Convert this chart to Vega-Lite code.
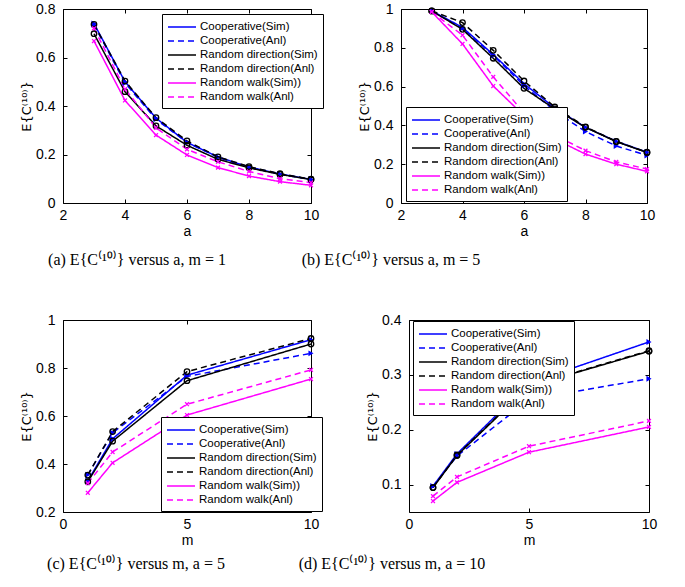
{
"$schema":"https://vega.github.io/schema/vega-lite/v6.json",
"padding":{"left":20,"top":1,"right":4,"bottom":4},
"background":"white",
"datasets":{"d":[
{"p":"a","s":"Cooperative(Sim)","x":3,"y":0.74},{"p":"a","s":"Cooperative(Sim)","x":4,"y":0.5},{"p":"a","s":"Cooperative(Sim)","x":5,"y":0.35},{"p":"a","s":"Cooperative(Sim)","x":6,"y":0.25},{"p":"a","s":"Cooperative(Sim)","x":7,"y":0.19},{"p":"a","s":"Cooperative(Sim)","x":8,"y":0.148},{"p":"a","s":"Cooperative(Sim)","x":9,"y":0.12},{"p":"a","s":"Cooperative(Sim)","x":10,"y":0.097},
{"p":"a","s":"Cooperative(Anl)","x":3,"y":0.735},{"p":"a","s":"Cooperative(Anl)","x":4,"y":0.495},{"p":"a","s":"Cooperative(Anl)","x":5,"y":0.345},{"p":"a","s":"Cooperative(Anl)","x":6,"y":0.25},{"p":"a","s":"Cooperative(Anl)","x":7,"y":0.188},{"p":"a","s":"Cooperative(Anl)","x":8,"y":0.147},{"p":"a","s":"Cooperative(Anl)","x":9,"y":0.119},{"p":"a","s":"Cooperative(Anl)","x":10,"y":0.097},
{"p":"a","s":"Random direction(Sim)","x":3,"y":0.698},{"p":"a","s":"Random direction(Sim)","x":4,"y":0.459},{"p":"a","s":"Random direction(Sim)","x":5,"y":0.318},{"p":"a","s":"Random direction(Sim)","x":6,"y":0.238},{"p":"a","s":"Random direction(Sim)","x":7,"y":0.18},{"p":"a","s":"Random direction(Sim)","x":8,"y":0.145},{"p":"a","s":"Random direction(Sim)","x":9,"y":0.118},{"p":"a","s":"Random direction(Sim)","x":10,"y":0.097},
{"p":"a","s":"Random direction(Anl)","x":3,"y":0.737},{"p":"a","s":"Random direction(Anl)","x":4,"y":0.503},{"p":"a","s":"Random direction(Anl)","x":5,"y":0.352},{"p":"a","s":"Random direction(Anl)","x":6,"y":0.256},{"p":"a","s":"Random direction(Anl)","x":7,"y":0.19},{"p":"a","s":"Random direction(Anl)","x":8,"y":0.15},{"p":"a","s":"Random direction(Anl)","x":9,"y":0.121},{"p":"a","s":"Random direction(Anl)","x":10,"y":0.098},
{"p":"a","s":"Random walk(Sim))","x":3,"y":0.668},{"p":"a","s":"Random walk(Sim))","x":4,"y":0.423},{"p":"a","s":"Random walk(Sim))","x":5,"y":0.28},{"p":"a","s":"Random walk(Sim))","x":6,"y":0.198},{"p":"a","s":"Random walk(Sim))","x":7,"y":0.146},{"p":"a","s":"Random walk(Sim))","x":8,"y":0.111},{"p":"a","s":"Random walk(Sim))","x":9,"y":0.088},{"p":"a","s":"Random walk(Sim))","x":10,"y":0.073},
{"p":"a","s":"Random walk(Anl)","x":3,"y":0.72},{"p":"a","s":"Random walk(Anl)","x":4,"y":0.47},{"p":"a","s":"Random walk(Anl)","x":5,"y":0.31},{"p":"a","s":"Random walk(Anl)","x":6,"y":0.221},{"p":"a","s":"Random walk(Anl)","x":7,"y":0.17},{"p":"a","s":"Random walk(Anl)","x":8,"y":0.13},{"p":"a","s":"Random walk(Anl)","x":9,"y":0.1},{"p":"a","s":"Random walk(Anl)","x":10,"y":0.084},
{"p":"b","s":"Cooperative(Sim)","x":3,"y":0.99},{"p":"b","s":"Cooperative(Sim)","x":4,"y":0.905},{"p":"b","s":"Cooperative(Sim)","x":5,"y":0.765},{"p":"b","s":"Cooperative(Sim)","x":6,"y":0.615},{"p":"b","s":"Cooperative(Sim)","x":7,"y":0.49},{"p":"b","s":"Cooperative(Sim)","x":8,"y":0.39},{"p":"b","s":"Cooperative(Sim)","x":9,"y":0.318},{"p":"b","s":"Cooperative(Sim)","x":10,"y":0.262},
{"p":"b","s":"Cooperative(Anl)","x":3,"y":0.99},{"p":"b","s":"Cooperative(Anl)","x":4,"y":0.9},{"p":"b","s":"Cooperative(Anl)","x":5,"y":0.76},{"p":"b","s":"Cooperative(Anl)","x":6,"y":0.605},{"p":"b","s":"Cooperative(Anl)","x":7,"y":0.475},{"p":"b","s":"Cooperative(Anl)","x":8,"y":0.368},{"p":"b","s":"Cooperative(Anl)","x":9,"y":0.294},{"p":"b","s":"Cooperative(Anl)","x":10,"y":0.245},
{"p":"b","s":"Random direction(Sim)","x":3,"y":0.99},{"p":"b","s":"Random direction(Sim)","x":4,"y":0.895},{"p":"b","s":"Random direction(Sim)","x":5,"y":0.746},{"p":"b","s":"Random direction(Sim)","x":6,"y":0.591},{"p":"b","s":"Random direction(Sim)","x":7,"y":0.485},{"p":"b","s":"Random direction(Sim)","x":8,"y":0.39},{"p":"b","s":"Random direction(Sim)","x":9,"y":0.316},{"p":"b","s":"Random direction(Sim)","x":10,"y":0.26},
{"p":"b","s":"Random direction(Anl)","x":3,"y":0.99},{"p":"b","s":"Random direction(Anl)","x":4,"y":0.93},{"p":"b","s":"Random direction(Anl)","x":5,"y":0.787},{"p":"b","s":"Random direction(Anl)","x":6,"y":0.629},{"p":"b","s":"Random direction(Anl)","x":7,"y":0.495},{"p":"b","s":"Random direction(Anl)","x":8,"y":0.392},{"p":"b","s":"Random direction(Anl)","x":9,"y":0.318},{"p":"b","s":"Random direction(Anl)","x":10,"y":0.262},
{"p":"b","s":"Random walk(Sim))","x":3,"y":0.985},{"p":"b","s":"Random walk(Sim))","x":4,"y":0.82},{"p":"b","s":"Random walk(Sim))","x":5,"y":0.603},{"p":"b","s":"Random walk(Sim))","x":6,"y":0.45},{"p":"b","s":"Random walk(Sim))","x":7,"y":0.33},{"p":"b","s":"Random walk(Sim))","x":8,"y":0.252},{"p":"b","s":"Random walk(Sim))","x":9,"y":0.2},{"p":"b","s":"Random walk(Sim))","x":10,"y":0.163},
{"p":"b","s":"Random walk(Anl)","x":3,"y":0.985},{"p":"b","s":"Random walk(Anl)","x":4,"y":0.865},{"p":"b","s":"Random walk(Anl)","x":5,"y":0.65},{"p":"b","s":"Random walk(Anl)","x":6,"y":0.465},{"p":"b","s":"Random walk(Anl)","x":7,"y":0.35},{"p":"b","s":"Random walk(Anl)","x":8,"y":0.27},{"p":"b","s":"Random walk(Anl)","x":9,"y":0.212},{"p":"b","s":"Random walk(Anl)","x":10,"y":0.175},
{"p":"c","s":"Cooperative(Sim)","x":1,"y":0.33},{"p":"c","s":"Cooperative(Sim)","x":2,"y":0.505},{"p":"c","s":"Cooperative(Sim)","x":5,"y":0.77},{"p":"c","s":"Cooperative(Sim)","x":10,"y":0.918},
{"p":"c","s":"Cooperative(Anl)","x":1,"y":0.355},{"p":"c","s":"Cooperative(Anl)","x":2,"y":0.53},{"p":"c","s":"Cooperative(Anl)","x":5,"y":0.765},{"p":"c","s":"Cooperative(Anl)","x":10,"y":0.861},
{"p":"c","s":"Random direction(Sim)","x":1,"y":0.326},{"p":"c","s":"Random direction(Sim)","x":2,"y":0.495},{"p":"c","s":"Random direction(Sim)","x":5,"y":0.747},{"p":"c","s":"Random direction(Sim)","x":10,"y":0.9},
{"p":"c","s":"Random direction(Anl)","x":1,"y":0.354},{"p":"c","s":"Random direction(Anl)","x":2,"y":0.535},{"p":"c","s":"Random direction(Anl)","x":5,"y":0.785},{"p":"c","s":"Random direction(Anl)","x":10,"y":0.923},
{"p":"c","s":"Random walk(Sim))","x":1,"y":0.28},{"p":"c","s":"Random walk(Sim))","x":2,"y":0.405},{"p":"c","s":"Random walk(Sim))","x":5,"y":0.604},{"p":"c","s":"Random walk(Sim))","x":10,"y":0.754},
{"p":"c","s":"Random walk(Anl)","x":1,"y":0.32},{"p":"c","s":"Random walk(Anl)","x":2,"y":0.45},{"p":"c","s":"Random walk(Anl)","x":5,"y":0.649},{"p":"c","s":"Random walk(Anl)","x":10,"y":0.792},
{"p":"d","s":"Cooperative(Sim)","x":1,"y":0.097},{"p":"d","s":"Cooperative(Sim)","x":2,"y":0.156},{"p":"d","s":"Cooperative(Sim)","x":5,"y":0.285},{"p":"d","s":"Cooperative(Sim)","x":10,"y":0.36},
{"p":"d","s":"Cooperative(Anl)","x":1,"y":0.097},{"p":"d","s":"Cooperative(Anl)","x":2,"y":0.152},{"p":"d","s":"Cooperative(Anl)","x":5,"y":0.255},{"p":"d","s":"Cooperative(Anl)","x":10,"y":0.293},
{"p":"d","s":"Random direction(Sim)","x":1,"y":0.0945},{"p":"d","s":"Random direction(Sim)","x":2,"y":0.153},{"p":"d","s":"Random direction(Sim)","x":5,"y":0.279},{"p":"d","s":"Random direction(Sim)","x":10,"y":0.343},
{"p":"d","s":"Random direction(Anl)","x":1,"y":0.0945},{"p":"d","s":"Random direction(Anl)","x":2,"y":0.154},{"p":"d","s":"Random direction(Anl)","x":5,"y":0.28},{"p":"d","s":"Random direction(Anl)","x":10,"y":0.344},
{"p":"d","s":"Random walk(Sim))","x":1,"y":0.07},{"p":"d","s":"Random walk(Sim))","x":2,"y":0.104},{"p":"d","s":"Random walk(Sim))","x":5,"y":0.159},{"p":"d","s":"Random walk(Sim))","x":10,"y":0.205},
{"p":"d","s":"Random walk(Anl)","x":1,"y":0.079},{"p":"d","s":"Random walk(Anl)","x":2,"y":0.114},{"p":"d","s":"Random walk(Anl)","x":5,"y":0.17},{"p":"d","s":"Random walk(Anl)","x":10,"y":0.216}
]},
"data":{"name":"d"},
"resolve":{"scale":{"color":"independent","strokeDash":"independent","shape":"independent"},"legend":{"color":"independent","strokeDash":"independent","shape":"independent"}},
"spacing":43,
"vconcat":[
{"hconcat":[
{"width":248,"height":194,
"title":{"text":"(a) E{C⁽¹⁰⁾} versus a, m = 1","dx":-50,"offset":14},
"transform":[{"filter":"datum.p=='a'"}],
"encoding":{"x":{"field":"x","type":"quantitative","scale":{"domain":[2,10]},"axis":{"values":[2,4,6,8,10],"title":"a"}},
"y":{"field":"y","type":"quantitative","scale":{"domain":[0,0.8]},"axis":{"values":[0,0.2,0.4,0.6,0.8],"title":"E{C⁽¹⁰⁾}"}}},
"resolve":{"axis":{"x":"independent","y":"independent"}},
"layer":[
{"layer":[
{"mark":{"type":"line","strokeWidth":1.5},"encoding":{"color":{"field":"s","type":"nominal","scale":{"domain":["Cooperative(Sim)","Cooperative(Anl)","Random direction(Sim)","Random direction(Anl)","Random walk(Sim))","Random walk(Anl)"],"range":["#0000ff","#0000ff","#000000","#000000","#ff00ff","#ff00ff"]},"legend":{"title":null,"orient":"none","legendX":99,"legendY":5}},"strokeDash":{"field":"s","type":"nominal","scale":{"domain":["Cooperative(Sim)","Cooperative(Anl)","Random direction(Sim)","Random direction(Anl)","Random walk(Sim))","Random walk(Anl)"],"range":[[1,0],[6,4],[1,0],[6,4],[1,0],[6,4]]},"legend":{"title":null,"orient":"none","legendX":99,"legendY":5}}}},
{"transform":[{"filter":"indexof(datum.s,'Cooperative')==0"}],"mark":{"type":"point","filled":true,"shape":"triangle-right","size":35,"opacity":1},"encoding":{"color":{"field":"s","type":"nominal","scale":{"domain":["Cooperative(Sim)","Cooperative(Anl)","Random direction(Sim)","Random direction(Anl)","Random walk(Sim))","Random walk(Anl)"],"range":["#0000ff","#0000ff","#000000","#000000","#ff00ff","#ff00ff"]}}}},
{"transform":[{"filter":"indexof(datum.s,'Cooperative')<0"}],"mark":{"type":"point","filled":false,"size":30,"strokeWidth":1.3,"opacity":1},"encoding":{"color":{"field":"s","type":"nominal","scale":{"domain":["Cooperative(Sim)","Cooperative(Anl)","Random direction(Sim)","Random direction(Anl)","Random walk(Sim))","Random walk(Anl)"],"range":["#0000ff","#0000ff","#000000","#000000","#ff00ff","#ff00ff"]}},"shape":{"field":"s","type":"nominal","scale":{"domain":["Random direction(Sim)","Random direction(Anl)","Random walk(Sim))","Random walk(Anl)"],"range":["circle","circle","M-0.7,-0.7L0.7,0.7M-0.7,0.7L0.7,-0.7","M-0.7,-0.7L0.7,0.7M-0.7,0.7L0.7,-0.7"]},"legend":null}}}
]},
{"mark":{"type":"point","opacity":0},"encoding":{"x":{"field":"x","type":"quantitative","axis":{"orient":"top","labels":false,"title":null,"values":[2,4,6,8,10]}},"y":{"field":"y","type":"quantitative","axis":{"orient":"right","labels":false,"title":null,"values":[0,0.2,0.4,0.6,0.8]}}}}
]},
{"width":246,"height":194,
"title":{"text":"(b) E{C⁽¹⁰⁾} versus a, m = 5","dx":-133,"offset":14},
"transform":[{"filter":"datum.p=='b'"}],
"encoding":{"x":{"field":"x","type":"quantitative","scale":{"domain":[2,10]},"axis":{"values":[2,4,6,8,10],"title":"a"}},
"y":{"field":"y","type":"quantitative","scale":{"domain":[0,1]},"axis":{"values":[0,0.2,0.4,0.6,0.8,1],"title":"E{C⁽¹⁰⁾}"}}},
"resolve":{"axis":{"x":"independent","y":"independent"}},
"layer":[
{"layer":[
{"mark":{"type":"line","strokeWidth":1.5},"encoding":{"color":{"field":"s","type":"nominal","scale":{"domain":["Cooperative(Sim)","Cooperative(Anl)","Random direction(Sim)","Random direction(Anl)","Random walk(Sim))","Random walk(Anl)"],"range":["#0000ff","#0000ff","#000000","#000000","#ff00ff","#ff00ff"]},"legend":{"title":null,"orient":"none","legendX":5,"legendY":98}},"strokeDash":{"field":"s","type":"nominal","scale":{"domain":["Cooperative(Sim)","Cooperative(Anl)","Random direction(Sim)","Random direction(Anl)","Random walk(Sim))","Random walk(Anl)"],"range":[[1,0],[6,4],[1,0],[6,4],[1,0],[6,4]]},"legend":{"title":null,"orient":"none","legendX":5,"legendY":98}}}},
{"transform":[{"filter":"indexof(datum.s,'Cooperative')==0"}],"mark":{"type":"point","filled":true,"shape":"triangle-right","size":35,"opacity":1},"encoding":{"color":{"field":"s","type":"nominal","scale":{"domain":["Cooperative(Sim)","Cooperative(Anl)","Random direction(Sim)","Random direction(Anl)","Random walk(Sim))","Random walk(Anl)"],"range":["#0000ff","#0000ff","#000000","#000000","#ff00ff","#ff00ff"]}}}},
{"transform":[{"filter":"indexof(datum.s,'Cooperative')<0"}],"mark":{"type":"point","filled":false,"size":30,"strokeWidth":1.3,"opacity":1},"encoding":{"color":{"field":"s","type":"nominal","scale":{"domain":["Cooperative(Sim)","Cooperative(Anl)","Random direction(Sim)","Random direction(Anl)","Random walk(Sim))","Random walk(Anl)"],"range":["#0000ff","#0000ff","#000000","#000000","#ff00ff","#ff00ff"]}},"shape":{"field":"s","type":"nominal","scale":{"domain":["Random direction(Sim)","Random direction(Anl)","Random walk(Sim))","Random walk(Anl)"],"range":["circle","circle","M-0.7,-0.7L0.7,0.7M-0.7,0.7L0.7,-0.7","M-0.7,-0.7L0.7,0.7M-0.7,0.7L0.7,-0.7"]},"legend":null}}}
]},
{"mark":{"type":"point","opacity":0},"encoding":{"x":{"field":"x","type":"quantitative","axis":{"orient":"top","labels":false,"title":null,"values":[2,4,6,8,10]}},"y":{"field":"y","type":"quantitative","axis":{"orient":"right","labels":false,"title":null,"values":[0,0.2,0.4,0.6,0.8,1]}}}}
]}
],"spacing":90,"bounds":"flush",
"resolve":{"scale":{"color":"independent","strokeDash":"independent","shape":"independent"},"legend":{"color":"independent","strokeDash":"independent","shape":"independent"}}},
{"hconcat":[
{"width":248,"height":192,
"title":{"text":"(c) E{C⁽¹⁰⁾} versus m, a = 5","dx":-51,"offset":9},
"transform":[{"filter":"datum.p=='c'"}],
"encoding":{"x":{"field":"x","type":"quantitative","scale":{"domain":[0,10]},"axis":{"values":[0,5,10],"title":"m"}},
"y":{"field":"y","type":"quantitative","scale":{"domain":[0.2,1]},"axis":{"values":[0.2,0.4,0.6,0.8,1],"title":"E{C⁽¹⁰⁾}"}}},
"resolve":{"axis":{"x":"independent","y":"independent"}},
"layer":[
{"layer":[
{"mark":{"type":"line","strokeWidth":1.5},"encoding":{"color":{"field":"s","type":"nominal","scale":{"domain":["Cooperative(Sim)","Cooperative(Anl)","Random direction(Sim)","Random direction(Anl)","Random walk(Sim))","Random walk(Anl)"],"range":["#0000ff","#0000ff","#000000","#000000","#ff00ff","#ff00ff"]},"legend":{"title":null,"orient":"none","legendX":98,"legendY":97}},"strokeDash":{"field":"s","type":"nominal","scale":{"domain":["Cooperative(Sim)","Cooperative(Anl)","Random direction(Sim)","Random direction(Anl)","Random walk(Sim))","Random walk(Anl)"],"range":[[1,0],[6,4],[1,0],[6,4],[1,0],[6,4]]},"legend":{"title":null,"orient":"none","legendX":98,"legendY":97}}}},
{"transform":[{"filter":"indexof(datum.s,'Cooperative')==0"}],"mark":{"type":"point","filled":true,"shape":"triangle-right","size":35,"opacity":1},"encoding":{"color":{"field":"s","type":"nominal","scale":{"domain":["Cooperative(Sim)","Cooperative(Anl)","Random direction(Sim)","Random direction(Anl)","Random walk(Sim))","Random walk(Anl)"],"range":["#0000ff","#0000ff","#000000","#000000","#ff00ff","#ff00ff"]}}}},
{"transform":[{"filter":"indexof(datum.s,'Cooperative')<0"}],"mark":{"type":"point","filled":false,"size":30,"strokeWidth":1.3,"opacity":1},"encoding":{"color":{"field":"s","type":"nominal","scale":{"domain":["Cooperative(Sim)","Cooperative(Anl)","Random direction(Sim)","Random direction(Anl)","Random walk(Sim))","Random walk(Anl)"],"range":["#0000ff","#0000ff","#000000","#000000","#ff00ff","#ff00ff"]}},"shape":{"field":"s","type":"nominal","scale":{"domain":["Random direction(Sim)","Random direction(Anl)","Random walk(Sim))","Random walk(Anl)"],"range":["circle","circle","M-0.7,-0.7L0.7,0.7M-0.7,0.7L0.7,-0.7","M-0.7,-0.7L0.7,0.7M-0.7,0.7L0.7,-0.7"]},"legend":null}}}
]},
{"mark":{"type":"point","opacity":0},"encoding":{"x":{"field":"x","type":"quantitative","axis":{"orient":"top","labels":false,"title":null,"values":[0,5,10]}},"y":{"field":"y","type":"quantitative","axis":{"orient":"right","labels":false,"title":null,"values":[0.2,0.4,0.6,0.8,1]}}}}
]},
{"width":240,"height":192,
"title":{"text":"(d) E{C⁽¹⁰⁾} versus m, a = 10","dx":-137,"offset":9},
"transform":[{"filter":"datum.p=='d'"}],
"encoding":{"x":{"field":"x","type":"quantitative","scale":{"domain":[0,10]},"axis":{"values":[0,5,10],"title":"m"}},
"y":{"field":"y","type":"quantitative","scale":{"domain":[0.05,0.4]},"axis":{"values":[0.1,0.2,0.3,0.4],"title":"E{C⁽¹⁰⁾}"}}},
"resolve":{"axis":{"x":"independent","y":"independent"}},
"layer":[
{"layer":[
{"mark":{"type":"line","strokeWidth":1.5},"encoding":{"color":{"field":"s","type":"nominal","scale":{"domain":["Cooperative(Sim)","Cooperative(Anl)","Random direction(Sim)","Random direction(Anl)","Random walk(Sim))","Random walk(Anl)"],"range":["#0000ff","#0000ff","#000000","#000000","#ff00ff","#ff00ff"]},"legend":{"title":null,"orient":"none","legendX":4,"legendY":1}},"strokeDash":{"field":"s","type":"nominal","scale":{"domain":["Cooperative(Sim)","Cooperative(Anl)","Random direction(Sim)","Random direction(Anl)","Random walk(Sim))","Random walk(Anl)"],"range":[[1,0],[6,4],[1,0],[6,4],[1,0],[6,4]]},"legend":{"title":null,"orient":"none","legendX":4,"legendY":1}}}},
{"transform":[{"filter":"indexof(datum.s,'Cooperative')==0"}],"mark":{"type":"point","filled":true,"shape":"triangle-right","size":35,"opacity":1},"encoding":{"color":{"field":"s","type":"nominal","scale":{"domain":["Cooperative(Sim)","Cooperative(Anl)","Random direction(Sim)","Random direction(Anl)","Random walk(Sim))","Random walk(Anl)"],"range":["#0000ff","#0000ff","#000000","#000000","#ff00ff","#ff00ff"]}}}},
{"transform":[{"filter":"indexof(datum.s,'Cooperative')<0"}],"mark":{"type":"point","filled":false,"size":30,"strokeWidth":1.3,"opacity":1},"encoding":{"color":{"field":"s","type":"nominal","scale":{"domain":["Cooperative(Sim)","Cooperative(Anl)","Random direction(Sim)","Random direction(Anl)","Random walk(Sim))","Random walk(Anl)"],"range":["#0000ff","#0000ff","#000000","#000000","#ff00ff","#ff00ff"]}},"shape":{"field":"s","type":"nominal","scale":{"domain":["Random direction(Sim)","Random direction(Anl)","Random walk(Sim))","Random walk(Anl)"],"range":["circle","circle","M-0.7,-0.7L0.7,0.7M-0.7,0.7L0.7,-0.7","M-0.7,-0.7L0.7,0.7M-0.7,0.7L0.7,-0.7"]},"legend":null}}}
]},
{"mark":{"type":"point","opacity":0},"encoding":{"x":{"field":"x","type":"quantitative","axis":{"orient":"top","labels":false,"title":null,"values":[0,5,10]}},"y":{"field":"y","type":"quantitative","axis":{"orient":"right","labels":false,"title":null,"values":[0.1,0.2,0.3,0.4]}}}}
]}
],"spacing":98,"bounds":"flush",
"resolve":{"scale":{"color":"independent","strokeDash":"independent","shape":"independent"},"legend":{"color":"independent","strokeDash":"independent","shape":"independent"}}}
],
"config":{
"view":{"stroke":"black","strokeWidth":1},
"axis":{"grid":false,"domain":false,"labelFont":"Liberation Sans","labelFontSize":14,"labelColor":"black","labelFlush":false,"labelOverlap":false,"titleFont":"Liberation Sans","titleFontSize":14,"titleFontWeight":"normal","titleColor":"black","tickColor":"black","tickSize":-4,"labelPadding":12,"titlePadding":2,"format":"~r"},
"axisX":{"labelPadding":9},
"axisY":{"titleFont":"DejaVu Sans","titleFontSize":13},
"legend":{"strokeColor":"black","fillColor":"white","padding":5,"labelFont":"Liberation Sans","labelFontSize":11.5,"labelColor":"black","symbolType":"M-1,0L3,0","symbolSize":196,"symbolStrokeWidth":1.5,"rowPadding":0,"labelOffset":17,"cornerRadius":0},
"title":{"font":"Liberation Serif","fontSize":16,"fontWeight":"normal","color":"black","orient":"bottom"}
}
}
